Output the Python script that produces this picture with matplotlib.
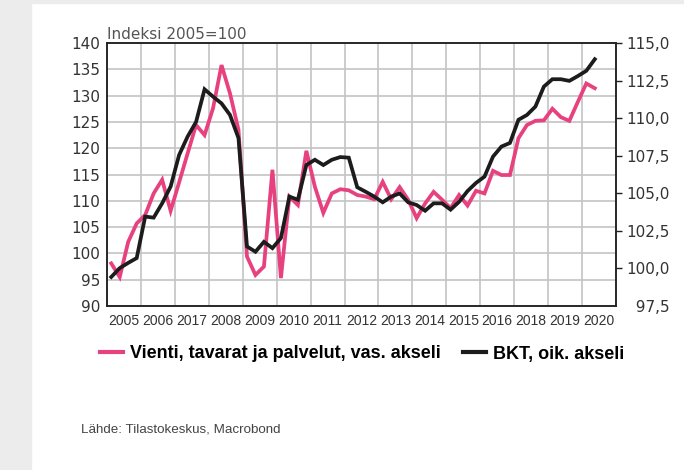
import numpy as np
import matplotlib
matplotlib.use("Agg")
import matplotlib.pyplot as plt
from matplotlib.patches import Rectangle
from matplotlib.lines import Line2D

# Vuosiotsikot (sellaisenaan kuin alkuperäisessä kuvassa)
year_labels = ['2005', '2006', '2017', '2008', '2009', '2010', '2011', '2012',
               '2013', '2014', '2015', '2016', '2018', '2019', '2020']

# Vienti, tavarat ja palvelut (vasen akseli), neljännesvuosittain
vienti = [98.1, 95.5, 102.2, 105.7, 107.3, 111.4, 114.0, 108.1, 113.5, 119.0,
          124.4, 122.5, 127.6, 135.8, 130.4, 123.5, 99.4, 95.9, 97.5, 115.9,
          95.3, 110.8, 109.2, 119.5, 112.7, 107.7, 111.4, 112.2, 112.0, 111.1,
          110.8, 110.3, 113.6, 110.3, 112.6, 110.2, 106.7, 109.5, 111.7, 110.2,
          108.6, 111.1, 109.1, 111.9, 111.4, 115.7, 114.9, 114.9, 121.9, 124.4,
          125.2, 125.3, 127.5, 125.9, 125.2, 128.8, 132.3, 131.4]

# BKT (oikea akseli)
bkt = [99.43, 100.02, 100.37, 100.69, 103.45, 103.38, 104.33, 105.45, 107.55, 108.77,
       109.75, 111.92, 111.43, 110.98, 110.21, 108.67, 101.46, 101.11, 101.77, 101.35,
       102.02, 104.78, 104.57, 106.88, 107.23, 106.88, 107.23, 107.41, 107.37, 105.40,
       105.10, 104.78, 104.40, 104.78, 104.99, 104.40, 104.22, 103.84, 104.33, 104.33,
       103.91, 104.43, 105.15, 105.69, 106.11, 107.44, 108.11, 108.35, 109.89, 110.21,
       110.77, 112.10, 112.59, 112.59, 112.48, 112.80, 113.15, 113.92]

left_ticks = list(range(90, 141, 5))
right_ticks = [97.5, 100.0, 102.5, 105.0, 107.5, 110.0, 112.5, 115.0]

pink = '#e8417f'
black = '#1c1c1c'
txt = '#333333'

x = np.arange(len(vienti)) * 0.25 + 0.125

fig = plt.figure(figsize=(6.84, 4.70), dpi=100)
fig.patches.append(Rectangle((0, 0), 31 / 684, 1, transform=fig.transFigure,
                             color='#ececec', zorder=-10))
fig.patches.append(Rectangle((0, 1 - 3 / 470), 1, 3 / 470, transform=fig.transFigure,
                             color='#ececec', zorder=-10))

ax = fig.add_axes([107 / 684, 1 - 306 / 470, 509 / 684, 263 / 470])
ax2 = ax.twinx()

ax.plot(x, vienti, color=pink, lw=2.7, solid_joinstyle='miter')
ax2.plot(x, bkt, color=black, lw=2.7, solid_joinstyle='miter')

ax.set_xlim(0, 15)
ax.set_ylim(90, 140)
ax2.set_ylim(97.5, 115)

ax.set_xticks(range(16))
ax.set_xticklabels([])
ax.set_xticks(np.arange(15) + 0.5, minor=True)
ax.set_xticklabels(year_labels, minor=True, family='Liberation Sans',
                   fontsize=10, color=txt)
ax.tick_params(axis='x', which='both', length=0, pad=6)

ax.set_yticks(left_ticks)
ax.set_yticklabels([str(t) for t in left_ticks], fontsize=11, color=txt)
ax.tick_params(axis='y', length=0, pad=5)

ax.grid(True, color='#c4c4c4', lw=1.2)
ax.set_axisbelow(True)

# oikean akselin otsikot tasataan oikealle numerovälilyönnillä
ax2.set_yticks(right_ticks)
ax2.set_yticklabels([f'{t:.1f}'.replace('.', ',').rjust(5, '\u2007') for t in right_ticks],
                    fontsize=11, color=txt)
ax2.tick_params(axis='y', length=4.5, width=1, color='#222222', pad=3)
ax2.yaxis.get_major_ticks()[0].tick2line.set_visible(False)

for a in (ax, ax2):
    for s in a.spines.values():
        s.set_color('#222222')
        s.set_linewidth(1.1)

ax.text(0, 1.005, 'Indeksi 2005=100', transform=ax.transAxes, fontsize=11,
        color='#555555', ha='left', va='bottom')

handles = [Line2D([], [], color=pink, lw=3),
           Line2D([], [], color=black, lw=3)]
fig.legend(handles, ['Vienti, tavarat ja palvelut, vas. akseli', 'BKT, oik. akseli'],
           loc='center left', bbox_to_anchor=(100 / 684, 1 - 354 / 470), ncol=2,
           frameon=False, borderpad=0, borderaxespad=0, handlelength=1.25,
           handletextpad=0.4, columnspacing=1.25,
           prop={'family': 'Liberation Sans', 'weight': 'bold', 'size': 13})

fig.text(81 / 684, 1 - 430 / 470, 'Lähde: Tilastokeskus, Macrobond', fontsize=9.6,
         family='Liberation Sans', color='#444444', va='center')

fig.savefig('out.png', dpi=100)
